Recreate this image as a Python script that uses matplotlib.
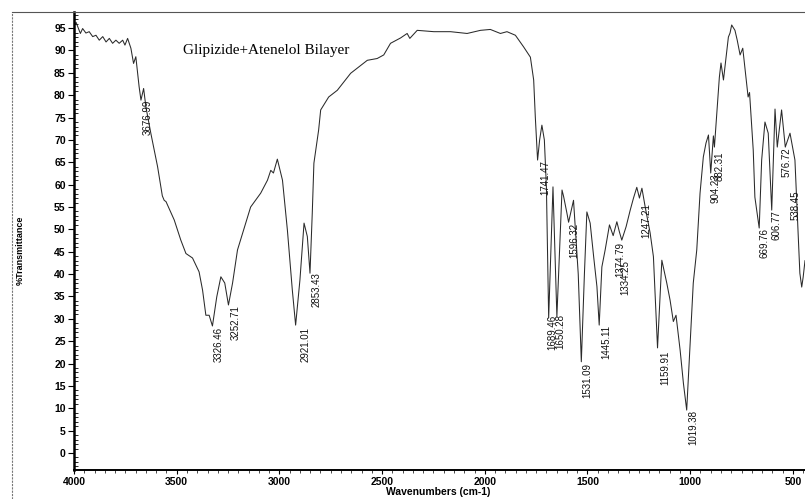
import matplotlib.pyplot as plt
from matplotlib.lines import Line2D
from matplotlib.ticker import MultipleLocator

# FTIR spectrum (wavenumber cm-1, %T)
wavenumber = [4000, 3990, 3979, 3969, 3958, 3942, 3926, 3909, 3893, 3877, 3860, 3844,
              3828, 3812, 3796, 3780, 3763, 3752, 3739, 3723, 3710, 3699, 3683, 3674,
              3661, 3650, 3626, 3593, 3570, 3561, 3552, 3512, 3480, 3455, 3423, 3391,
              3374, 3358, 3342, 3326, 3305, 3285, 3266, 3248, 3228, 3204, 3140, 3091,
              3058, 3042, 3029, 3010, 2985, 2961, 2937, 2921, 2900, 2880, 2864, 2851,
              2840, 2832, 2809, 2799, 2760, 2718, 2653, 2572, 2524, 2492, 2459, 2410,
              2378, 2365, 2329, 2248, 2167, 2086, 2021, 1973, 1924, 1892, 1851, 1811,
              1778, 1762, 1754, 1743, 1733, 1722, 1710, 1700, 1689, 1668, 1649, 1624,
              1616, 1600, 1592, 1568, 1545, 1530, 1515, 1503, 1487, 1470, 1454, 1443,
              1430, 1414, 1393, 1375, 1357, 1345, 1333, 1312, 1292, 1276, 1260, 1247,
              1235, 1219, 1195, 1179, 1159, 1138, 1114, 1098, 1082, 1069, 1049, 1033,
              1017, 985, 968, 952, 936, 923, 911, 900, 887, 882, 858, 850, 838, 814,
              806, 798, 782, 771, 757, 744, 722, 718, 711, 693, 685, 664, 652, 636,
              620, 603, 587, 576, 555, 537, 514, 490, 466, 457, 450, 441]
transmittance = [95.5, 96.3, 95.0, 93.8, 94.9, 93.9, 94.2, 93.1, 93.4, 92.3, 93.1, 91.9,
                 92.7, 91.6, 92.3, 91.6, 92.3, 91.2, 92.7, 90.5, 87.1, 88.6, 81.9, 78.9,
                 81.5, 77.4, 71.5, 64.0, 57.5, 56.5, 56.2, 52.1, 47.6, 44.6, 43.6, 40.5,
                 36.4, 30.8, 30.8, 28.4, 34.9, 39.4, 38.0, 33.1, 38.0, 45.4, 55.0, 58.1,
                 61.0, 63.2, 62.6, 65.7, 61.0, 49.8, 36.4, 28.6, 38.7, 51.4, 48.4, 40.2,
                 53.6, 64.8, 72.2, 76.7, 79.6, 81.1, 84.9, 87.8, 88.2, 89.0, 91.6, 92.8,
                 93.8, 92.7, 94.5, 94.2, 94.2, 93.8, 94.5, 94.7, 93.8, 94.2, 93.4, 90.8,
                 88.5, 83.4, 75.1, 65.5, 70.0, 73.3, 70.0, 59.5, 30.2, 59.5, 30.5, 58.8,
                 57.3, 53.6, 51.6, 56.5, 40.0, 20.4, 40.0, 53.9, 51.4, 43.9, 37.2, 28.6,
                 41.6, 45.4, 51.0, 48.6, 51.7, 49.5, 47.6, 50.6, 54.3, 57.0, 59.4, 57.0,
                 59.2, 55.0, 49.2, 43.9, 23.5, 43.1, 38.0, 34.2, 29.4, 30.8, 23.0, 15.6,
                 9.6, 38.0, 45.4, 58.1, 66.2, 69.3, 71.1, 62.6, 70.9, 68.4, 84.0, 87.2,
                 83.4, 93.0, 93.9, 95.7, 94.5, 92.3, 89.0, 90.5, 81.1, 79.6, 80.6, 67.7,
                 57.2, 50.3, 65.5, 74.0, 71.5, 54.3, 76.9, 68.4, 76.7, 68.4, 71.5, 65.5,
                 40.2, 37.1, 39.3, 43.0]

# peak labels as printed on the spectrum
peak_labels = ['3676.99', '3326.46', '3252.71', '2921.01', '2853.43', '1741.47',
               '1689.46', '1650.28', '1596.32', '1531.09', '1445.11', '1374.79',
               '1334.25', '1247.21', '1159.91', '1019.38', '904.23', '882.31',
               '669.76', '606.77', '576.72', '538.45']
# where each label sits (label centre x, label top y)
label_x = [3640, 3295, 3212, 2872, 2819, 1705, 1671, 1632, 1564, 1501, 1409, 1341,
           1316, 1214, 1122, 986, 879, 855, 636, 578, 529, 485]
label_y = [78.9, 28.2, 33.1, 28.2, 40.5, 65.5, 30.8, 31.1, 51.4, 20.1, 28.6, 47.2,
           43.1, 55.9, 23.0, 9.6, 62.6, 67.3, 50.3, 54.3, 68.4, 58.8]

W, H = 805, 499
fig = plt.figure(figsize=(W / 100, H / 100), dpi=100)
ax = fig.add_axes([74 / W, 1 - 470 / H, 1 - 74 / W, (470 - 12) / H])

ax.plot(wavenumber, transmittance, color='#2a2a2a', lw=0.75)

ax.set_xlim(4000, 441)
ax.set_ylim(-3.8, 98.6)

ax.xaxis.set_major_locator(MultipleLocator(500))
ax.xaxis.set_minor_locator(MultipleLocator(50))
ax.yaxis.set_major_locator(MultipleLocator(5))
ax.yaxis.set_minor_locator(MultipleLocator(1))
ax.set_yticks(range(0, 100, 5))

tick_font = dict(family='Liberation Sans', weight='bold', size=7.5)
for lab in ax.get_xticklabels() + ax.get_yticklabels():
    lab.set_fontproperties(tick_font)
ax.tick_params(axis='y', which='major', direction='out', length=4, width=0.8, pad=2)
ax.tick_params(axis='y', which='minor', direction='in', length=3, width=0.6)
ax.tick_params(axis='x', which='major', direction='out', length=3, width=0.8, pad=2)
ax.tick_params(axis='x', which='minor', direction='out', length=2, width=0.5)

ax.spines['left'].set_linewidth(1.8)
ax.spines['bottom'].set_linewidth(1.4)
ax.spines['top'].set_linewidth(0.8)
ax.spines['top'].set_color('#555555')
ax.spines['right'].set_visible(False)

for lab, x, y in zip(peak_labels, label_x, label_y):
    ax.text(x, y, lab, rotation=90, ha='center', va='top',
            family='Liberation Sans', size=7, color='#111111')

ax.text(3470, 90.1, 'Glipizide+Atenelol Bilayer', family='Liberation Serif',
        size=11, va='center', ha='left')

fig.text(20 / W, 1 - 250 / H, '%Transmittance', rotation=90, ha='center', va='center',
         family='Liberation Sans', weight='bold', size=6.5)
fig.text(438 / W, 1 - 492 / H, 'Wavenumbers (cm-1)', ha='center', va='center',
         family='Liberation Sans', weight='bold', size=7.5)

# outer frame of the printout
fig.add_artist(Line2D([12 / W, 12 / W], [0, 1 - 12 / H], color='#777777', lw=0.8,
                      transform=fig.transFigure, linestyle=(0, (2, 1))))
fig.add_artist(Line2D([12 / W, 74 / W], [1 - 12 / H, 1 - 12 / H], color='#555555', lw=0.8,
                      transform=fig.transFigure))

fig.savefig('out.png', dpi=100)
